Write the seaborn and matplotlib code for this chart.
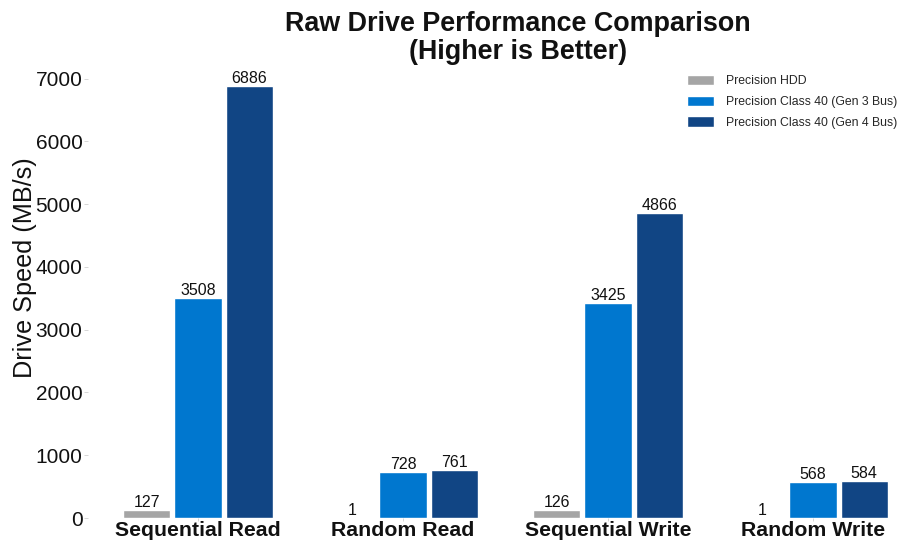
import matplotlib
matplotlib.use("Agg")
import matplotlib.pyplot as plt
import seaborn as sns
import pandas as pd

categories = ["Sequential Read", "Random Read", "Sequential Write", "Random Write"]
drives = ["Precision HDD", "Precision Class 40 (Gen 3 Bus)", "Precision Class 40 (Gen 4 Bus)"]
hdd = [127, 1, 126, 1]
gen3 = [3508, 728, 3425, 568]
gen4 = [6886, 761, 4866, 584]
colors = ["#A5A5A5", "#0077CF", "#114584"]

rows = []
for drive, vals in zip(drives, [hdd, gen3, gen4]):
    for cat, v in zip(categories, vals):
        rows.append({"Test": cat, "Drive": drive, "Speed": v})
df = pd.DataFrame(rows)

sns.set_theme(style="white")
plt.rcParams["font.family"] = ["Liberation Sans", "DejaVu Sans"]

W, H = 914, 542
fig = plt.figure(figsize=(W / 100, H / 100), dpi=100)
left, right, bottom, top = 88, 912, 518, 66
ax = fig.add_axes([left / W, 1 - bottom / H, (right - left) / W, (bottom - top) / H])

sns.barplot(data=df, x="Test", y="Speed", hue="Drive", order=categories,
            hue_order=drives, palette=colors, width=0.75, gap=0.08,
            saturation=1, ax=ax, errorbar=None)

for cont in ax.containers:
    ax.bar_label(cont, fmt="%d", padding=0, fontsize=11.5, color="#111111")

ax.set_xlim(-0.537, 3.483)
ax.set_ylim(0, 7200)
ax.set_yticks(range(0, 7001, 1000))
for s in ax.spines.values():
    s.set_visible(False)
ax.tick_params(axis="y", labelsize=15, length=3, width=0.6, color="#D0D0D0",
               pad=1, left=True, labelcolor="#111111")
ax.tick_params(axis="x", labelsize=15.3, length=2, width=0.6, color="#D0D0D0",
               pad=0, bottom=True, labelcolor="#111111")
for lbl in ax.get_xticklabels():
    lbl.set_fontweight("bold")
ax.set_xlabel("")
ax.set_ylabel("Drive Speed (MB/s)", fontsize=18.2, labelpad=2, color="#111111")
ax.yaxis.set_label_coords(-0.062, 0.553)

ax.legend(title=None, frameon=False, loc="upper right",
          bbox_to_anchor=(0.996, 1.005), fontsize=8.8, handlelength=2.2,
          handleheight=0.95, labelspacing=0.68, handletextpad=1.0)

fig.text(518 / W, 1 - 11 / H, "Raw Drive Performance Comparison\n(Higher is Better)",
         ha="center", va="top", fontsize=19.4, fontweight="bold",
         color="#111111", linespacing=1.1)

fig.savefig("out.png", dpi=100, facecolor="white")
